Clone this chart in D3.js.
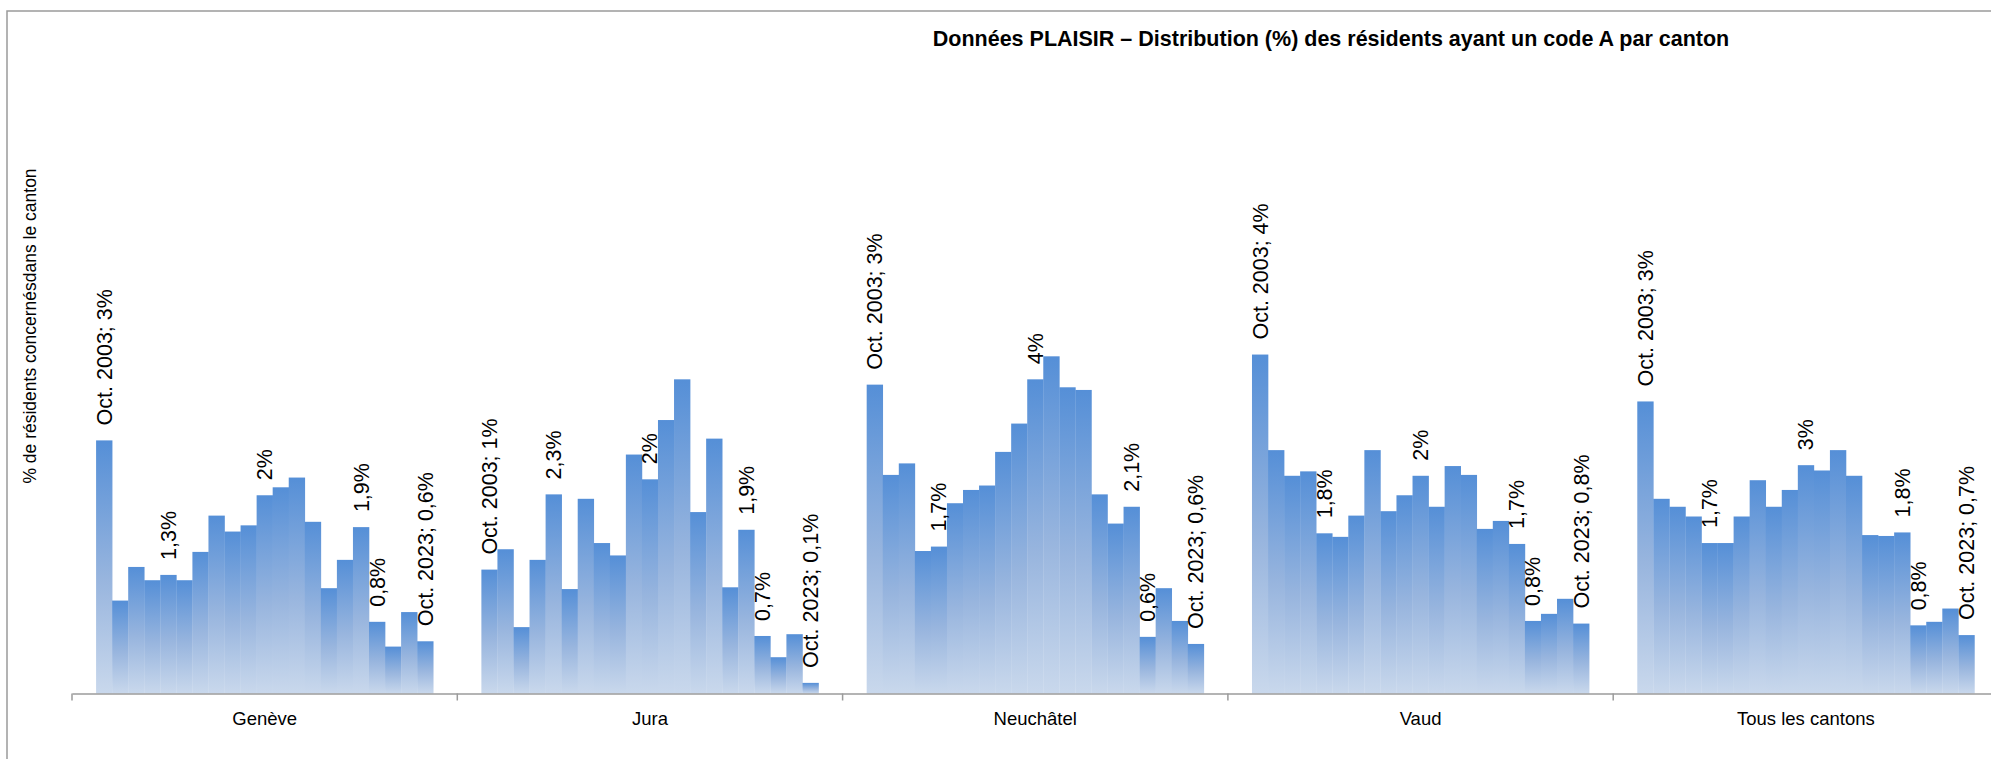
<!DOCTYPE html>
<html>
<head>
<meta charset="utf-8">
<script src="https://cdnjs.cloudflare.com/ajax/libs/d3/7.8.5/d3.min.js"></script>
<style>
  body { margin: 0; background: #fff; }
  svg { display: block; font-family: "Liberation Sans", Arial, sans-serif; }
</style>
</head>
<body>
<svg id="svg" width="1991" height="759"></svg>
<script>
var cantons = ["Genève", "Jura", "Neuchâtel", "Vaud", "Tous les cantons"];
var years = ["Oct. 2003", "Oct. 2004", "Oct. 2005", "Oct. 2006", "Oct. 2007", "Oct. 2008", "Oct. 2009",
  "Oct. 2010", "Oct. 2011", "Oct. 2012", "Oct. 2013", "Oct. 2014", "Oct. 2015", "Oct. 2016",
  "Oct. 2017", "Oct. 2018", "Oct. 2019", "Oct. 2020", "Oct. 2021", "Oct. 2022", "Oct. 2023"];

// % of residents with code A, one value per year
var geneve    = [2.86, 1.05, 1.43, 1.28, 1.34, 1.28, 1.60, 2.01, 1.83, 1.90, 2.24, 2.33, 2.44, 1.94, 1.19, 1.51, 1.88, 0.81, 0.53, 0.92, 0.59];
var jura      = [1.40, 1.63, 0.75, 1.51, 2.25, 1.18, 2.20, 1.70, 1.56, 2.70, 2.42, 3.09, 3.55, 2.05, 2.88, 1.20, 1.85, 0.65, 0.41, 0.67, 0.12];
var neuchatel = [3.49, 2.47, 2.60, 1.61, 1.66, 2.15, 2.30, 2.35, 2.73, 3.05, 3.55, 3.81, 3.46, 3.43, 2.25, 1.92, 2.11, 0.64, 1.19, 0.82, 0.56];
var vaud      = [3.83, 2.75, 2.46, 2.51, 1.81, 1.77, 2.01, 2.75, 2.06, 2.24, 2.46, 2.11, 2.57, 2.47, 1.86, 1.95, 1.69, 0.82, 0.90, 1.07, 0.79];
var tous      = [3.30, 2.20, 2.11, 2.00, 1.70, 1.70, 2.00, 2.41, 2.11, 2.30, 2.58, 2.52, 2.75, 2.46, 1.79, 1.78, 1.82, 0.77, 0.81, 0.96, 0.66];

// data labels as shown on the chart (only some years are labelled)
var labelYears = ["Oct. 2003", "Oct. 2007", "Oct. 2013", "Oct. 2019", "Oct. 2020", "Oct. 2023"];
var labelsGeneve    = ["3%", "1,3%", "2%", "1,9%", "0,8%", "0,6%"];
var labelsJura      = ["1%", "2,3%", "2%", "1,9%", "0,7%", "0,1%"];
var labelsNeuchatel = ["3%", "1,7%", "4%", "2,1%", "0,6%", "0,6%"];
var labelsVaud      = ["4%", "1,8%", "2%", "1,7%", "0,8%", "0,8%"];
var labelsTous      = ["3%", "1,7%", "3%", "1,8%", "0,8%", "0,7%"];

var series = [geneve, jura, neuchatel, vaud, tous];
var labels = [labelsGeneve, labelsJura, labelsNeuchatel, labelsVaud, labelsTous];

var svg = d3.select("#svg");

var plot = {left: 72, groupWidth: 385.3, bottom: 693.5, pxPerUnit: 88.5};

var xGroup = d3.scaleBand()
  .domain(cantons)
  .range([plot.left, plot.left + plot.groupWidth * cantons.length])
  .paddingInner(0).paddingOuter(0);

var xBar = d3.scaleBand()
  .domain(years)
  .range([0, xGroup.bandwidth()])
  .paddingInner(0).paddingOuter(1.5);

var yScale = d3.scaleLinear()
  .domain([0, 5])
  .range([plot.bottom, plot.bottom - 5 * plot.pxPerUnit]);

// gradient for bars
var defs = svg.append("defs");
var grad = defs.append("linearGradient")
  .attr("id", "barGrad")
  .attr("x1", 0).attr("y1", 0).attr("x2", 0).attr("y2", 1);
grad.append("stop").attr("offset", "0%").attr("stop-color", "#558fd7");
grad.append("stop").attr("offset", "55%").attr("stop-color", "#98b5de");
grad.append("stop").attr("offset", "100%").attr("stop-color", "#c9d8ec");

// frame
svg.append("path")
  .attr("d", "M7,760 L7,11 L1992,11")
  .attr("fill", "none")
  .attr("stroke", "#9b9b9b")
  .attr("stroke-width", 1.5);

// title
svg.append("text")
  .attr("x", 1331)
  .attr("y", 46)
  .attr("text-anchor", "middle")
  .attr("font-weight", "bold")
  .attr("font-size", 21.5)
  .attr("fill", "#000")
  .text("Données PLAISIR – Distribution (%) des résidents ayant un code A par canton");

// y axis title
svg.append("text")
  .attr("transform", "translate(36,326) rotate(-90)")
  .attr("text-anchor", "middle")
  .attr("font-size", 17.5)
  .attr("fill", "#000")
  .text("% de résidents concernésdans le canton");

var groups = svg.selectAll("g.canton").data(cantons).enter()
  .append("g")
  .classed("canton", true)
  .attr("transform", function(d) { return "translate(" + xGroup(d) + ",0)"; });

groups.selectAll("rect")
  .data(function(d, i) { return series[i].map(function(v, j) { return {year: years[j], value: v}; }); })
  .enter()
  .append("rect")
  .attr("x", function(d) { return xBar(d.year); })
  .attr("width", xBar.bandwidth() + 0.3)
  .attr("y", function(d) { return yScale(d.value); })
  .attr("height", function(d) { return plot.bottom - yScale(d.value); })
  .attr("fill", "url(#barGrad)");

groups.selectAll("text.lbl")
  .data(function(d, i) {
    return labelYears.map(function(yr, k) {
      var j = years.indexOf(yr);
      var txt = labels[i][k];
      if (k === 0 || k === labelYears.length - 1) txt = yr + "; " + txt;
      return {year: yr, value: series[i][j], text: txt};
    });
  })
  .enter()
  .append("text")
  .classed("lbl", true)
  .attr("transform", function(d) {
    return "translate(" + (xBar(d.year) + xBar.bandwidth() / 2) + "," + (yScale(d.value) - 15) + ") rotate(-90)";
  })
  .attr("dy", "0.35em")
  .attr("font-size", 21.5)
  .attr("fill", "#000")
  .text(function(d) { return d.text; });

// x axis
var xAxis = svg.append("g")
  .classed("xAxis", true)
  .attr("transform", "translate(0," + plot.bottom + ")")
  .call(d3.axisBottom(xGroup).tickSize(0).tickPadding(18));
xAxis.select(".domain").attr("stroke", "#9b9b9b").attr("stroke-width", 1.5);
xAxis.selectAll(".tick text").attr("font-size", 18.5).attr("fill", "#000").attr("font-family", "Liberation Sans, Arial, sans-serif");

// boundary ticks between cantons
var bounds = cantons.map(function(c) { return xGroup(c); });
xAxis.selectAll("line.sep").data(bounds).enter()
  .append("line")
  .classed("sep", true)
  .attr("x1", function(d) { return d; }).attr("x2", function(d) { return d; })
  .attr("y1", 0).attr("y2", 7)
  .attr("stroke", "#9b9b9b")
  .attr("stroke-width", 1.5);
</script>
</body>
</html>
